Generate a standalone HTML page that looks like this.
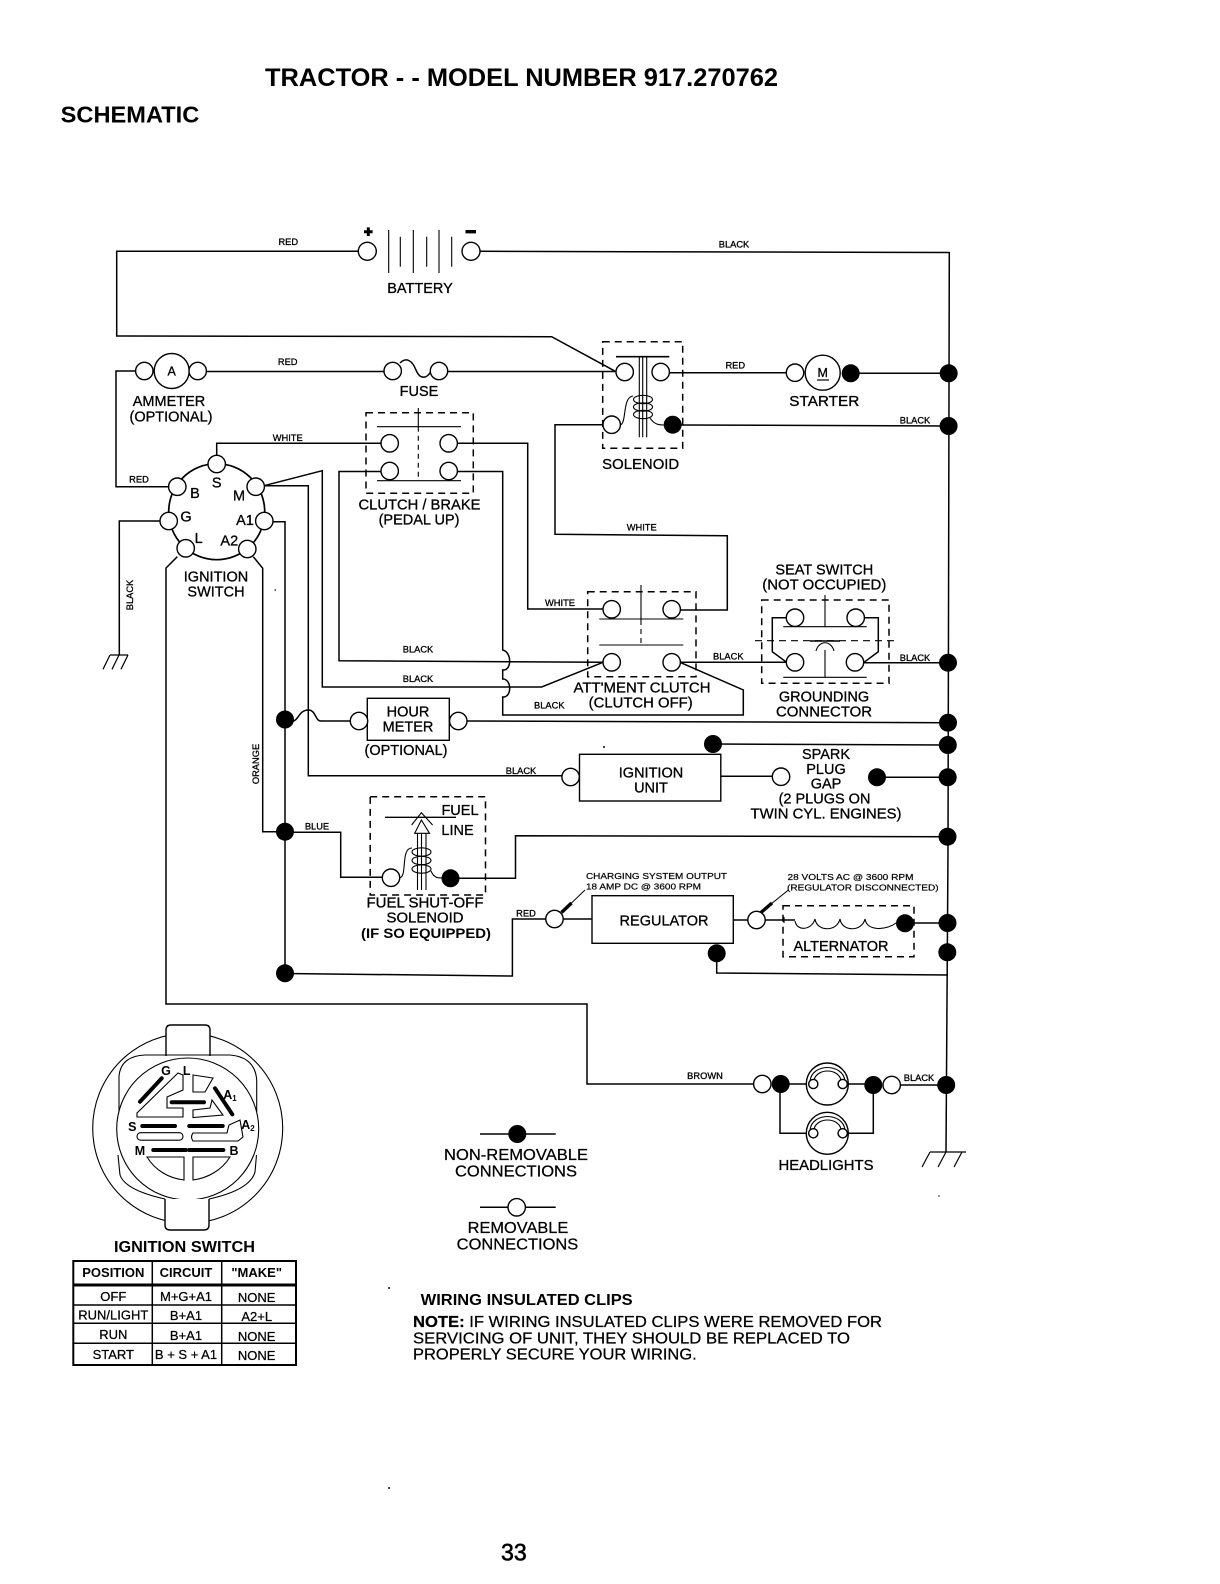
<!DOCTYPE html>
<html><head><meta charset="utf-8"><title>Tractor Schematic</title>
<style>
html,body{margin:0;padding:0;background:#fff}
svg{display:block}
text{font-family:"Liberation Sans",sans-serif;fill:#000}
.w{fill:none;stroke:#000;stroke-width:1.5;stroke-linejoin:miter}
.t{fill:none;stroke:#000;stroke-width:1.1}
.h{fill:none;stroke:#000;stroke-width:4;stroke-linecap:round}
.b{fill:none;stroke:#000;stroke-width:1.5;stroke-dasharray:7 5}
.c{fill:#fff;stroke:#000;stroke-width:1.4}
.f{fill:#fff;stroke:#000;stroke-width:1.4}
.d{fill:#000}
.m{font-size:14.5px;text-anchor:middle;stroke:#000;stroke-width:.3}
.s{font-size:9.3px;text-anchor:middle;stroke:#000;stroke-width:.3}
.x{font-size:8.6px;stroke:#000;stroke-width:.2}
.l{font-size:12.5px;font-weight:bold;text-anchor:middle}
.r{font-size:13px;text-anchor:middle;stroke:#000;stroke-width:.25}
.q{font-size:13px;font-weight:bold;text-anchor:middle}
.n{font-size:16px;stroke:#000;stroke-width:.25}
</style></head>
<body>
<svg width="1220" height="1584" viewBox="0 0 1220 1584" xmlns="http://www.w3.org/2000/svg">
<rect width="1220" height="1584" fill="#fff"/>

<!-- headings -->
<text x="265" y="86" font-size="24.6" font-weight="bold" textLength="513" lengthAdjust="spacingAndGlyphs">TRACTOR - - MODEL NUMBER 917.270762</text>
<text x="60.7" y="122.7" font-size="23" font-weight="bold" textLength="138.6" lengthAdjust="spacingAndGlyphs">SCHEMATIC</text>

<!-- wires -->
<g class="w">
<path d="M949.3 252 L948 850 L946 1152"/>
<path d="M358 251.3 H116.7 V336 L551.7 336.7 L616 371.7"/>
<path d="M480 251.3 L949.3 252.5"/>
<path d="M206 371.5 H385"/>
<path d="M135 371 H116 V486.7 H168"/>
<path d="M400 363 C406 357 412 360 416 370 C420 380 428 380 433 367"/>
<path d="M448 371.5 H616"/>
<path d="M669 372.7 H787"/>
<path d="M858 373.3 H948"/>
<path d="M680 425 L948 426"/>
<path d="M603 424.7 H555 V534.3 L727.3 535.7 V610 H680"/>
<!-- ignition switch wires -->
<path d="M216.7 455 V443.3 H381"/>
<path d="M457 443.3 H527.7 V609 H603"/>
<path d="M457 471.5 H502.7 V650 C512 652 512 671 502.7 670 V679 C512 679 512 698 502.7 697 V715 H743.3 V690 L680 662.3"/>
<path d="M381 471.5 H339 V660.7 L603 662.3"/>
<path d="M264 485.7 L322.3 470.7 V687 H541.7 L603 662.3"/>
<path d="M264 485.7 H308.3 V775.7 H563"/>
<path d="M273 521.7 H285 V973.3"/>
<path d="M253.3 556.7 L262.7 568.3 V831.7 H285"/>
<path d="M177.3 556.7 L166 568 V1004 H587 V1084 H753"/>
<path d="M160 521 H119.3 V655"/>
<path d="M110 655 H128 M110 655 L103 669.3 M119 655 L112 669.3 M128 655 L121 669.3" stroke-width="1.2"/>
<path d="M293 721 C298 721 299 710 308.3 710 C316 710 315 721 321 721 H350"/>
<path d="M467 721 L947 722.7"/>
<path d="M713 744 L947 745"/>
<path d="M720.5 776.3 H772.5"/>
<path d="M877 777.3 H947"/>
<path d="M293 832.3 H340.7 V877.3 H382"/>
<path d="M450 878.3 H515.5 V835.7 L947 836.7"/>
<path d="M285 973.5 L512.4 976 V919 H545.5"/>
<path d="M563 919 H592"/>
<path d="M733 920 H748"/>
<path d="M764.5 920 H795"/>
<path d="M905 923 H947"/>
<path d="M716.7 953 V973 L948 975"/>
<path d="M681 662.3 H786"/>
<path d="M864 662.7 H947"/>
<path d="M786.7 617.7 H772.3 V651.7 L786.7 662.3"/>
<path d="M864 617.7 H878.3 V651.7 L864 662.3"/>
<path d="M780 1084 V1133.3 H806.7"/>
<path d="M848 1133.3 H873.3 V1085"/>
<path d="M781 1084 H806"/>
<path d="M848.5 1084 H873"/>
<path d="M900 1085 H946"/>
<path d="M930 1152 H966 M930 1152 L922 1167 M946 1152 L938 1167 M962 1152 L954 1167" stroke-width="1.2"/>
</g>

<!-- battery -->
<g class="t">
<path d="M388.7 230 V273 M400.3 236.7 V266.7 M413.3 230 V273 M426.7 236.7 V266.7 M439 230 V273 M451.7 236.7 V266.7"/>
</g>
<path d="M364 231.7 H372.6 M368.3 227.4 V236" stroke="#000" stroke-width="3" fill="none"/>
<path d="M465.5 231.7 H476" stroke="#000" stroke-width="3.4" fill="none"/>

<!-- dashed boxes -->
<rect class="b" x="366" y="412.7" width="107.3" height="80.6"/>
<rect class="b" x="602.7" y="341.7" width="80" height="106.6"/>
<rect class="b" x="587.7" y="591.7" width="108.3" height="85"/>
<rect class="b" x="761.7" y="600" width="127.3" height="83.3"/>
<rect class="b" x="370.2" y="796.7" width="115.3" height="98.3"/>
<rect class="b" x="783" y="905.7" width="131" height="51"/>

<!-- clutch/brake -->
<g class="t">
<path d="M377 426.7 H461 M377 480.7 H461 M418.3 408 V426.7"/>
<path d="M418.3 426.7 V480" stroke-dasharray="5 4"/>
</g>

<!-- solenoid -->
<g class="t">
<path d="M616 356.7 H669.3" stroke-width="1.7"/>
<path d="M639.3 357 V437.3 M642.7 357 V437.3 M646.7 357 V437.3"/>
<ellipse cx="643" cy="399.5" rx="9.5" ry="4.2"/>
<ellipse cx="643" cy="407" rx="9.5" ry="4.2"/>
<ellipse cx="643" cy="414.5" rx="9.5" ry="4.2"/>
<path d="M620 425 C627 424 622 397 633 396 M650 418 C654 424 658 425 664 425"/>
</g>

<!-- attment clutch -->
<g class="t">
<path d="M599.3 619 H683.3 M599.3 645 H683.3 M641 585 V620"/>
<path d="M641 620 V645" stroke-dasharray="5 4"/>
</g>

<!-- seat switch -->
<g class="t">
<path d="M783.3 626.7 H866.7 M783.3 677.3 H866.7 M825 595 V626.7 M825 650 V677.3"/>
<path d="M755 640.7 H895" stroke-dasharray="7 5"/>
<path d="M810 641 H840" stroke-width="1.4"/>
<path d="M816 651 C819 640 831 640 834 651"/>
</g>

<!-- fuel solenoid -->
<g class="t">
<path d="M385 817.3 H456" stroke-width="1.4"/>
<path d="M411.6 825 L421.4 812.7 L432.6 825"/>
<path d="M421.4 820 L414.7 833.3 H429.5 Z"/>
<path d="M417.5 833 V890 M421.5 833 V890 M426 833 V890"/>
<ellipse cx="421.5" cy="852" rx="9.5" ry="4.2"/>
<ellipse cx="421.5" cy="860.5" rx="9.5" ry="4.2"/>
<ellipse cx="421.5" cy="869" rx="9.5" ry="4.2"/>
<path d="M399 878 C408 878 400 848 412 848 M431 871 C434 878 438 878 442 878"/>
</g>

<!-- alternator coil -->
<path class="t" d="M795 921 C797 932 812 930 815 919 C817 932 837 932 840 919 C842 932 862 932 865 919 C867 932 887 930 896 923" stroke-width="1.4"/>
<path class="t" d="M784 917 V923"/>

<!-- measurement arrows -->
<path d="M585 890 L562.5 911.7" stroke="#000" stroke-width="1" fill="none"/>
<path d="M571.5 903 L561.5 912.5" stroke="#000" stroke-width="3.4" fill="none"/>
<path d="M788.4 890 L761.5 911.7" stroke="#000" stroke-width="1" fill="none"/>
<path d="M772 903 L761 912.5" stroke="#000" stroke-width="3.4" fill="none"/>

<!-- switch body -->
<circle cx="216.7" cy="511.7" r="48" fill="none" stroke="#000" stroke-width="1.7"/>

<!-- hour meter, ignition unit, regulator -->
<rect class="f" x="367.3" y="698.3" width="82" height="42"/>
<rect class="f" x="579.5" y="754.3" width="141.3" height="46.7"/>
<rect class="f" x="592" y="895.7" width="141.3" height="47.6"/>

<!-- lamps -->
<circle class="f" cx="827.3" cy="1084" r="21"/>
<circle class="f" cx="827.3" cy="1133.3" r="21"/>
<path class="t" d="M810 1081 C812 1063 843 1063 845 1081 M814 1080 C817 1068 838 1068 841 1080"/>
<path class="t" d="M810 1130 C812 1112 843 1112 845 1130 M814 1129 C817 1117 838 1117 841 1129"/>
<circle class="f" cx="813.3" cy="1084" r="4.6"/>
<circle class="f" cx="842.7" cy="1084" r="4.6"/>
<circle class="f" cx="813.3" cy="1133.3" r="4.6"/>
<circle class="f" cx="842.7" cy="1133.3" r="4.6"/>

<!-- open terminals -->
<g class="c">
<circle cx="367.3" cy="251.3" r="9"/><circle cx="471" cy="251.3" r="9"/>
<circle cx="171.7" cy="371" r="17.5"/><circle cx="144.3" cy="371" r="8.7"/><circle cx="197.7" cy="371" r="8.7"/>
<circle cx="392.7" cy="371" r="8.7"/><circle cx="439" cy="371" r="8.7"/>
<circle cx="216.7" cy="464" r="8.7"/><circle cx="177.3" cy="486.7" r="8.7"/><circle cx="255.7" cy="486.7" r="8.7"/>
<circle cx="168.7" cy="521" r="8.7"/><circle cx="264.3" cy="521" r="8.7"/><circle cx="185.7" cy="548.3" r="8.7"/><circle cx="247.3" cy="549" r="8.7"/>
<circle cx="389.7" cy="443.3" r="8.7"/><circle cx="448.7" cy="443.3" r="8.7"/><circle cx="389.7" cy="471" r="8.7"/><circle cx="448.7" cy="471" r="8.7"/>
<circle cx="624.7" cy="372" r="8.7"/><circle cx="660.7" cy="372" r="8.7"/><circle cx="611.7" cy="424.7" r="8.7"/>
<circle cx="795" cy="372.7" r="8.7"/><circle cx="822.7" cy="372.7" r="17.5"/>
<circle cx="611.7" cy="609.3" r="8.7"/><circle cx="671.7" cy="609.3" r="8.7"/><circle cx="611.7" cy="662.3" r="8.7"/><circle cx="671.7" cy="662.3" r="8.7"/>
<circle cx="795" cy="617.7" r="8.7"/><circle cx="855.7" cy="617.7" r="8.7"/><circle cx="795" cy="662.3" r="8.7"/><circle cx="855" cy="662.3" r="8.7"/>
<circle cx="359" cy="721" r="8.7"/><circle cx="458.3" cy="721" r="8.7"/>
<circle cx="570.6" cy="777" r="8.7"/><circle cx="781" cy="776.7" r="8.7"/>
<circle cx="391" cy="877.7" r="8.7"/>
<circle cx="554.5" cy="919" r="8.7"/><circle cx="756.5" cy="920" r="8.7"/>
<circle cx="762.3" cy="1084" r="8.7"/><circle cx="891.7" cy="1085" r="8.7"/>
</g>

<!-- solid terminals -->
<g class="d">
<circle cx="672.7" cy="424.7" r="9"/><circle cx="850.7" cy="373.3" r="9"/>
<circle cx="948.7" cy="373.3" r="9"/><circle cx="948.6" cy="426" r="9"/><circle cx="948" cy="662.7" r="9"/>
<circle cx="948" cy="722.7" r="9"/><circle cx="947.8" cy="745" r="9"/><circle cx="947.7" cy="777.3" r="9"/>
<circle cx="947.5" cy="836.7" r="9"/><circle cx="947.5" cy="923" r="9"/><circle cx="947.3" cy="952.3" r="9"/>
<circle cx="946.2" cy="1085" r="9"/>
<circle cx="285" cy="719.5" r="9"/><circle cx="285" cy="831.7" r="9"/><circle cx="285" cy="973.3" r="9"/>
<circle cx="713" cy="744" r="9"/><circle cx="877" cy="777.3" r="9"/>
<circle cx="450.5" cy="878.3" r="9"/><circle cx="905" cy="923.3" r="9"/><circle cx="716.7" cy="953.3" r="9"/>
<circle cx="780.7" cy="1084" r="9"/><circle cx="873.3" cy="1085" r="9"/>
<circle cx="517.3" cy="1134" r="9"/>
<circle cx="275.3" cy="590" r=".8"/><circle cx="604" cy="747" r="1"/>
<circle cx="389" cy="1288" r="1"/><circle cx="389" cy="1488" r="1"/><circle cx="939" cy="1196" r=".7"/>
</g>

<!-- legend -->
<path class="w" d="M480 1134 H555.7 M480 1207.3 H555.7"/>
<circle class="c" cx="516.7" cy="1207.3" r="8.7"/>

<!-- large labels -->
<text class="m" x="420" y="293">BATTERY</text>
<text class="m" x="171.7" y="371" style="font-size:12.5px" dy="4.5">A</text>
<text class="m" x="822.7" y="377" style="font-size:12.5px">M</text>
<path d="M817 380 H829" stroke="#000" stroke-width="1.2"/>
<text class="m" x="169" y="406">AMMETER</text>
<text class="m" x="171" y="421.7">(OPTIONAL)</text>
<text class="m" x="419" y="396">FUSE</text>
<text class="m" x="216.7" y="487.7">S</text>
<text class="m" x="195" y="498">B</text>
<text class="m" x="239" y="500.7">M</text>
<text class="m" x="186" y="521.7">G</text>
<text class="m" x="245" y="525">A1</text>
<text class="m" x="198.7" y="543">L</text>
<text class="m" x="229.3" y="545.7">A2</text>
<text class="m" x="216" y="581.7">IGNITION</text>
<text class="m" x="216" y="596.7">SWITCH</text>
<text class="m" x="419.5" y="509.3" textLength="122" lengthAdjust="spacingAndGlyphs">CLUTCH / BRAKE</text>
<text class="m" x="419" y="524.3">(PEDAL UP)</text>
<text class="m" x="640.7" y="469" textLength="77" lengthAdjust="spacingAndGlyphs">SOLENOID</text>
<text class="m" x="824.3" y="406" textLength="70" lengthAdjust="spacingAndGlyphs">STARTER</text>
<text class="m" x="824.3" y="574.3">SEAT SWITCH</text>
<text class="m" x="824.3" y="589.3" textLength="124" lengthAdjust="spacingAndGlyphs">(NOT OCCUPIED)</text>
<text class="m" x="824" y="701.7">GROUNDING</text>
<text class="m" x="824" y="716.7" textLength="96" lengthAdjust="spacingAndGlyphs">CONNECTOR</text>
<text class="m" x="642" y="692.7" textLength="137" lengthAdjust="spacingAndGlyphs">ATT'MENT CLUTCH</text>
<text class="m" x="640.7" y="707.3" textLength="104" lengthAdjust="spacingAndGlyphs">(CLUTCH OFF)</text>
<text class="m" x="408" y="716.7">HOUR</text>
<text class="m" x="408" y="731.7">METER</text>
<text class="m" x="406" y="755">(OPTIONAL)</text>
<text class="m" x="651" y="777.7">IGNITION</text>
<text class="m" x="651" y="792.3">UNIT</text>
<text class="m" x="826" y="759">SPARK</text>
<text class="m" x="826" y="774">PLUG</text>
<text class="m" x="826" y="788.3">GAP</text>
<text class="m" x="824.5" y="803.3">(2 PLUGS ON</text>
<text class="m" x="826" y="818.3" textLength="151" lengthAdjust="spacingAndGlyphs">TWIN CYL. ENGINES)</text>
<text class="m" x="460" y="815">FUEL</text>
<text class="m" x="457.5" y="835">LINE</text>
<text class="m" x="425" y="907.7" textLength="117" lengthAdjust="spacingAndGlyphs">FUEL SHUT-OFF</text>
<text class="m" x="425" y="922.7" textLength="77" lengthAdjust="spacingAndGlyphs">SOLENOID</text>
<text class="m" x="426" y="938" style="font-weight:bold;font-size:14px;stroke-width:0" textLength="130" lengthAdjust="spacingAndGlyphs">(IF SO EQUIPPED)</text>
<text class="m" x="664" y="925.7">REGULATOR</text>
<text class="m" x="841" y="951">ALTERNATOR</text>
<text class="m" x="826" y="1170" textLength="95" lengthAdjust="spacingAndGlyphs">HEADLIGHTS</text>

<!-- small wire labels -->
<text class="s" x="288.3" y="245">RED</text>
<text class="s" x="734" y="247.5">BLACK</text>
<text class="s" x="287.7" y="365">RED</text>
<text class="s" x="735.3" y="368.5">RED</text>
<text class="s" x="915" y="423.5">BLACK</text>
<text class="s" x="287.7" y="441">WHITE</text>
<text class="s" x="139" y="482.5">RED</text>
<text class="s" x="641.7" y="530.5">WHITE</text>
<text class="s" x="560" y="606">WHITE</text>
<text class="s" x="418" y="652.5">BLACK</text>
<text class="s" x="418" y="682">BLACK</text>
<text class="s" x="549.3" y="708.5">BLACK</text>
<text class="s" x="728.3" y="659.5">BLACK</text>
<text class="s" x="915" y="661">BLACK</text>
<text class="s" x="521" y="774">BLACK</text>
<text class="s" x="317" y="829.5">BLUE</text>
<text class="s" x="526" y="916.5">RED</text>
<text class="s" x="705" y="1079">BROWN</text>
<text class="s" x="919" y="1081">BLACK</text>
<text class="s" transform="translate(133,595) rotate(-90)">BLACK</text>
<text class="s" transform="translate(259,764) rotate(-90)">ORANGE</text>

<text class="x" x="586" y="879" textLength="141" lengthAdjust="spacingAndGlyphs">CHARGING SYSTEM OUTPUT</text>
<text class="x" x="586" y="889.5" textLength="115" lengthAdjust="spacingAndGlyphs">18 AMP DC @ 3600 RPM</text>
<text class="x" x="787.5" y="880" textLength="126" lengthAdjust="spacingAndGlyphs">28 VOLTS AC @ 3600 RPM</text>
<text class="x" x="787" y="890.5" textLength="151.6" lengthAdjust="spacingAndGlyphs">(REGULATOR DISCONNECTED)</text>

<!-- ignition switch detail -->
<circle cx="187.7" cy="1128.3" r="95" fill="none" stroke="#000" stroke-width="1.1"/>
<path class="f" d="M166 1056 V1030 Q166 1025 171 1025 H205 Q210 1025 210 1030 V1056" stroke-width="1.1"/>
<path class="t" d="M119 1112 V1076 Q121 1056 145 1055 H230 Q255 1057 256.7 1080 V1112"/>
<path class="t" d="M118 1155 L120 1175 Q125 1190 165 1199 M256.5 1155 L255 1172 Q250 1190 209 1199"/>
<circle cx="187.7" cy="1129" r="71" fill="#fff" stroke="#000" stroke-width="1.1"/>
<path class="f" d="M165 1199 V1225 Q165 1230 170 1230 H204 Q209 1230 209 1225 V1199" stroke-width="1.1"/>
<g class="t">
<path d="M178 1073 L137 1113 V1117 H183 V1108 H167 V1097 L183 1090 V1075 Z"/>
<path d="M193 1075 L213 1078 L205 1092 H193 Z"/>
<path d="M193 1117 V1110 L210 1108 L212 1100 L223 1115 L193 1117.5 Z"/>
<rect x="137" y="1132.7" width="46" height="7.5" rx="3.7"/>
<path d="M193 1133 H227 L229 1125 L240 1120 L243 1137 L238 1141 H193 Q190 1137 193 1133 Z"/>
<path d="M147 1157 H184 V1180 C168 1178 155 1170 147 1157 Z"/>
<path d="M193 1157 H230 C222 1170 208 1178 193 1180 Z"/>
</g>
<g class="h">
<path d="M140 1101.7 L161.7 1078.3"/>
<path d="M215 1088.3 L232.3 1114.3"/>
<path d="M171.7 1102.3 H204"/>
<path d="M142.3 1126 H175 M189.3 1126 H222.7"/>
<path d="M153.3 1150 H186 M189.3 1150 H223.3"/>
</g>
<text class="l" x="166" y="1075">G</text>
<text class="l" x="186.7" y="1075">L</text>
<text class="l" x="230" y="1099">A<tspan font-size="8" dy="2">1</tspan></text>
<text class="l" x="248" y="1129">A<tspan font-size="8" dy="2">2</tspan></text>
<text class="l" x="132.3" y="1131">S</text>
<text class="l" x="140" y="1155">M</text>
<text class="l" x="234" y="1155">B</text>

<text x="114" y="1252" font-size="16" font-weight="bold" textLength="141" lengthAdjust="spacingAndGlyphs">IGNITION SWITCH</text>

<!-- table -->
<rect x="73.3" y="1261" width="222.7" height="104" fill="none" stroke="#000" stroke-width="2"/>
<path d="M73 1285 H296" stroke="#000" stroke-width="3"/>
<path d="M73 1305 H296 M73 1323.3 H296 M73 1343.3 H296 M152.3 1261 V1365 M221.7 1261 V1365" stroke="#000" stroke-width="1.5"/>
<text class="q" x="113.3" y="1277">POSITION</text>
<text class="q" x="186" y="1277">CIRCUIT</text>
<text class="q" x="256.7" y="1277">"MAKE"</text>
<text class="r" x="113.3" y="1301">OFF</text>
<text class="r" x="186" y="1301">M+G+A1</text>
<text class="r" x="256.7" y="1302">NONE</text>
<text class="r" x="113.3" y="1319.5" textLength="70" lengthAdjust="spacingAndGlyphs">RUN/LIGHT</text>
<text class="r" x="186" y="1320">B+A1</text>
<text class="r" x="256.7" y="1321">A2+L</text>
<text class="r" x="113.3" y="1339">RUN</text>
<text class="r" x="186" y="1340">B+A1</text>
<text class="r" x="256.7" y="1341">NONE</text>
<text class="r" x="113.3" y="1359">START</text>
<text class="r" x="186" y="1359">B + S + A1</text>
<text class="r" x="256.7" y="1360">NONE</text>

<!-- legend text -->
<text class="n" x="444" y="1160" textLength="144" lengthAdjust="spacingAndGlyphs">NON-REMOVABLE</text>
<text class="n" x="455" y="1176.7" textLength="122" lengthAdjust="spacingAndGlyphs">CONNECTIONS</text>
<text class="n" x="467.7" y="1233" textLength="100.6" lengthAdjust="spacingAndGlyphs">REMOVABLE</text>
<text class="n" x="456.7" y="1249.3" textLength="121.6" lengthAdjust="spacingAndGlyphs">CONNECTIONS</text>

<text x="420.7" y="1305" font-size="15.5" font-weight="bold" textLength="212" lengthAdjust="spacingAndGlyphs">WIRING INSULATED CLIPS</text>
<text class="n" x="413" y="1327" textLength="469" lengthAdjust="spacingAndGlyphs"><tspan font-weight="bold">NOTE:</tspan> IF WIRING INSULATED CLIPS WERE REMOVED FOR</text>
<text class="n" x="413" y="1343.7" textLength="437" lengthAdjust="spacingAndGlyphs">SERVICING OF UNIT, THEY SHOULD BE REPLACED TO</text>
<text class="n" x="413" y="1359.5" textLength="283.7" lengthAdjust="spacingAndGlyphs">PROPERLY SECURE YOUR WIRING.</text>

<text x="501" y="1560.7" font-size="24" stroke="#000" stroke-width=".6" textLength="25.7" lengthAdjust="spacingAndGlyphs">33</text>
</svg>
</body></html>
